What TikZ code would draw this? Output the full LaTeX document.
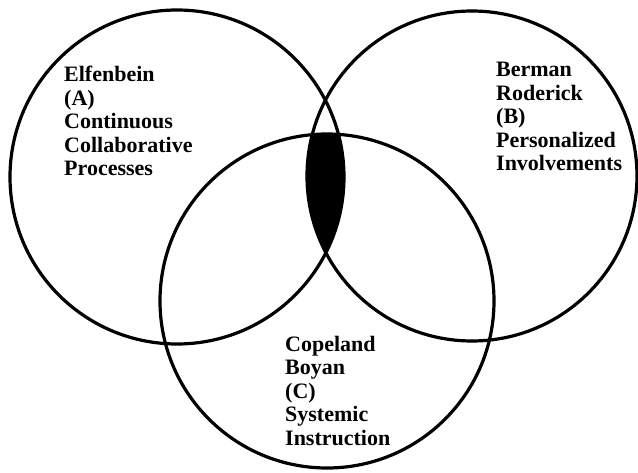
\documentclass[tikz,border=0pt]{standalone}
\usepackage{fontspec}
\setmainfont{Liberation Serif}
\begin{document}
\begin{tikzpicture}[x=1pt,y=-1pt,
  ring/.style={line width=3.2pt,draw=black},
  lbl/.style={anchor=north west,inner sep=0pt,align=left,
    font=\bfseries\fontsize{22}{23.5}\selectfont}]
\useasboundingbox (0,0) rectangle (638,473);
\coordinate (cA) at (177,177);
\coordinate (cB) at (472,176);
\coordinate (cC) at (327,301);
\begin{scope}
  \clip (cA) circle[radius=167pt];
  \clip (cB) circle[radius=165pt];
  \fill[black] (cC) circle[radius=167pt];
\end{scope}
\draw[ring] (cA) circle[radius=167pt];
\draw[ring] (cB) circle[radius=165pt];
\draw[ring] (cC) circle[radius=167pt];
\node[lbl] (tA) at (64,66) {Elfenbein\\(A)\\Continuous\\Collaborative\\Processes};
\node[lbl] (tB) at (496,62) {Berman\\Roderick\\(B)\\Personalized\\Involvements};
\node[lbl] (tC) at (285,336) {Copeland\\Boyan\\(C)\\Systemic\\Instruction};
\end{tikzpicture}
\end{document}
